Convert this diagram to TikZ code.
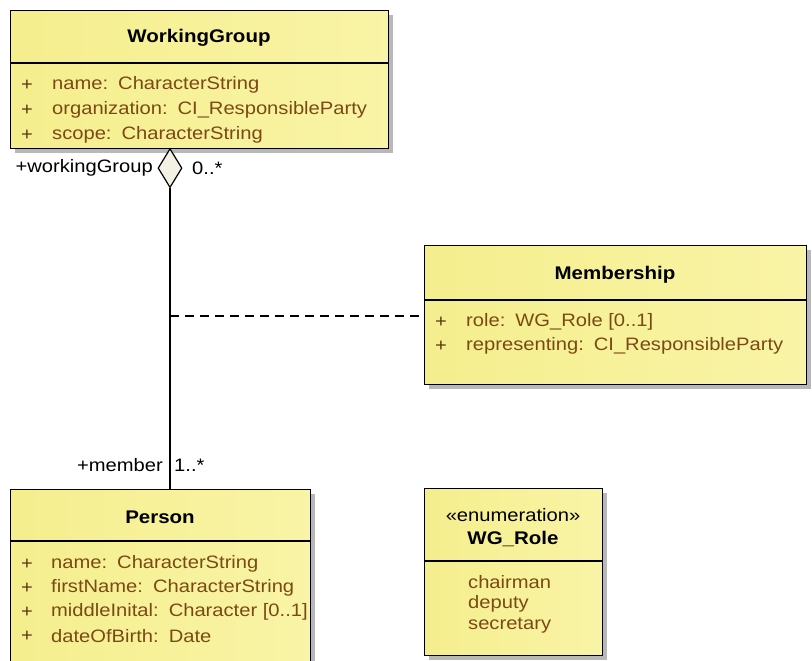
\documentclass[tikz,border=0pt]{standalone}
\usepackage{fontspec}
\setmainfont{Liberation Sans}[FakeStretch=1.12]
\usetikzlibrary{shapes.geometric,shadows}
\definecolor{boxfill}{HTML}{F5EE8E}
\definecolor{boxfillL}{HTML}{F9F4A6}
\definecolor{attrcol}{HTML}{7B4A14}
\definecolor{pluscol}{HTML}{5A3A12}
\definecolor{diafill}{HTML}{F3F0E4}
\newcommand{\csep}{:\hspace{10pt}}
\begin{document}
\begin{tikzpicture}[x=1pt,y=-1pt,
  every node/.style={font=\fontsize{18}{22}\selectfont},
  classbox/.style={draw=black, line width=1.3pt, left color=boxfill, right color=boxfillL,
    drop shadow={shadow xshift=4pt, shadow yshift=-4pt, fill=black!28, opacity=1},
    anchor=north west, inner sep=0pt},
  divline/.style={draw=black, line width=1.3pt},
  titletext/.style={font=\fontsize{18.3}{22}\selectfont\bfseries, text=black, inner sep=0pt},
  stereo/.style={font=\fontsize{18}{22}\selectfont, text=black, inner sep=0pt},
  plussign/.style={text=pluscol, anchor=west, inner sep=0pt},
  attrtext/.style={text=attrcol, anchor=west, inner sep=0pt},
  roletext/.style={text=black, inner sep=1pt},
  assoc/.style={draw=black, line width=1.2pt},
  linkline/.style={draw=black, line width=1.2pt, dash pattern=on 9pt off 6pt}
]
\useasboundingbox (0,0) rectangle (812,661);
\clip (0,0) rectangle (812,661);

% WorkingGroup
\node[classbox, minimum width=378pt, minimum height=138pt] (wg) at (10,10) {};
\draw[divline] (10,63) -- (388,63);
\node[titletext] (wgt) at (199,38) {WorkingGroup};
\node[plussign] (wgp1) at (21,85) {+};
\node[attrtext] (wga1) at (52,85) {name\csep CharacterString};
\node[plussign] (wgp2) at (21,110) {+};
\node[attrtext] (wga2) at (52,110) {organization\csep CI\_ResponsibleParty};
\node[plussign] (wgp3) at (21,135) {+};
\node[attrtext] (wga3) at (52,135) {scope\csep CharacterString};

% Membership
\node[classbox, minimum width=382pt, minimum height=139pt] (mem) at (424,245) {};
\draw[divline] (424,300) -- (806,300);
\node[titletext] (memt) at (615,275) {Membership};
\node[plussign] (memp1) at (435,322) {+};
\node[attrtext] (mema1) at (466,322) {role\csep WG\_Role [0..1]};
\node[plussign] (memp2) at (435,346) {+};
\node[attrtext] (mema2) at (466,346) {representing\csep CI\_ResponsibleParty};

% Person
\node[classbox, minimum width=300pt, minimum height=180pt] (per) at (10,489) {};
\draw[divline] (10,541) -- (310,541);
\node[titletext] (pert) at (160,517) {Person};
\node[plussign] (perp1) at (21,564) {+};
\node[attrtext] (pera1) at (51,564) {name\csep CharacterString};
\node[plussign] (perp2) at (21,588) {+};
\node[attrtext] (pera2) at (51,588) {firstName\csep CharacterString};
\node[plussign] (perp3) at (21,612) {+};
\node[attrtext] (pera3) at (51,612) {middleInital\csep Character [0..1]};
\node[plussign] (perp4) at (21,636) {+};
\node[attrtext] (pera4) at (51,636) {dateOfBirth\csep Date};

% WG_Role
\node[classbox, minimum width=178pt, minimum height=167pt] (role) at (424,488) {};
\draw[divline] (424,561) -- (602,561);
\node[stereo] (rolest) at (513,515) {«enumeration»};
\node[titletext] (rolet) at (513,539) {WG\_Role};
\node[attrtext] (rolev1) at (468,582) {chairman};
\node[attrtext] (rolev2) at (468,604) {deputy};
\node[attrtext] (rolev3) at (468,626) {secretary};

% Association with aggregation diamond
\node[diamond, draw=black, line width=1.2pt, fill=diafill, minimum width=24pt, minimum height=39pt, inner sep=0pt, anchor=north] (dia) at (170,148) {};
\draw[assoc] (dia.south) -- (dia.south |- per.north);
\coordinate (amid) at (170,316);
\draw[linkline] (amid) -- (amid -| mem.west);

% role labels
\node[roletext, anchor=east] (lwg) at (154,168) {+workingGroup};
\node[roletext, anchor=west] (mwg) at (191,168) {0..*};
\node[roletext, anchor=east] (lmem) at (164,465) {+member};
\node[roletext, anchor=west] (mmem) at (173,465) {1..*};
\end{tikzpicture}
\end{document}
